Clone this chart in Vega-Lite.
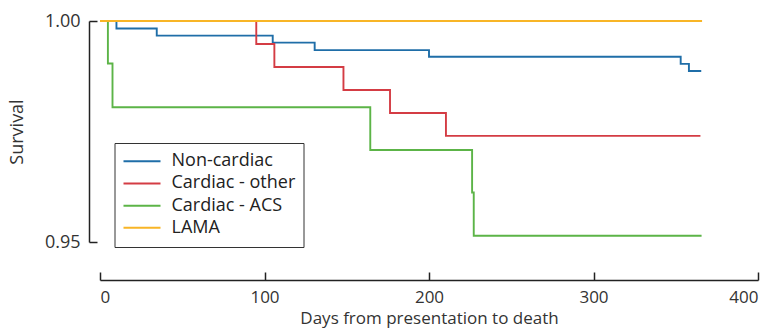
{
  "$schema": "https://vega.github.io/schema/vega-lite/v6.json",
  "autosize": {"type": "none"},
  "padding": {"left": 100, "top": 21, "right": 20, "bottom": 92},
  "width": 658,
  "height": 221,
  "background": "white",
  "config": {
    "font": "Open Sans",
    "view": {"stroke": null},
    "axis": {"grid": false}
  },
  "data": {
    "values": [
      {"series": "Non-cardiac", "day": 0, "surv": 1.0},
      {"series": "Non-cardiac", "day": 10, "surv": 0.9983},
      {"series": "Non-cardiac", "day": 34.5, "surv": 0.9967},
      {"series": "Non-cardiac", "day": 105, "surv": 0.9951},
      {"series": "Non-cardiac", "day": 130.5, "surv": 0.9934},
      {"series": "Non-cardiac", "day": 200, "surv": 0.9919},
      {"series": "Non-cardiac", "day": 353, "surv": 0.9903},
      {"series": "Non-cardiac", "day": 358, "surv": 0.9887},
      {"series": "Non-cardiac", "day": 365.5, "surv": 0.9887},
      {"series": "Cardiac - other", "day": 0, "surv": 1.0},
      {"series": "Cardiac - other", "day": 95, "surv": 0.9948},
      {"series": "Cardiac - other", "day": 106, "surv": 0.9896},
      {"series": "Cardiac - other", "day": 148, "surv": 0.9844},
      {"series": "Cardiac - other", "day": 176.3, "surv": 0.9792},
      {"series": "Cardiac - other", "day": 210.3, "surv": 0.9740},
      {"series": "Cardiac - other", "day": 365, "surv": 0.9740},
      {"series": "Cardiac - ACS", "day": 0, "surv": 1.0},
      {"series": "Cardiac - ACS", "day": 4.8, "surv": 0.9904},
      {"series": "Cardiac - ACS", "day": 7.6, "surv": 0.9805},
      {"series": "Cardiac - ACS", "day": 164.3, "surv": 0.9708},
      {"series": "Cardiac - ACS", "day": 226.2, "surv": 0.9612},
      {"series": "Cardiac - ACS", "day": 227.2, "surv": 0.9514},
      {"series": "Cardiac - ACS", "day": 365.7, "surv": 0.9514},
      {"series": "LAMA", "day": 0, "surv": 1.0},
      {"series": "LAMA", "day": 366, "surv": 1.0}
    ]
  },
  "mark": {"type": "line", "interpolate": "step-after", "strokeWidth": 1.9, "clip": false},
  "encoding": {
    "x": {
      "field": "day", "type": "quantitative",
      "scale": {"domain": [0, 400], "nice": false, "zero": false},
      "axis": {
        "title": "Days from presentation to death",
        "values": [0, 100, 200, 300, 400],
        "offset": 38,
        "tickSize": -8,
        "tickWidth": 1.5,
        "tickColor": "#222",
        "domainColor": "#222",
        "domainWidth": 1.5,
        "labelFontSize": 17,
        "labelColor": "#333",
        "labelPadding": 17,
        "titleFontSize": 17,
        "titleFontWeight": "normal",
        "titleColor": "#333",
        "titlePadding": 5
      }
    },
    "y": {
      "field": "surv", "type": "quantitative",
      "scale": {"domain": [0.95, 1.0], "nice": false, "zero": false},
      "axis": {
        "title": "Survival",
        "values": [0.95, 1.0],
        "format": ".2f",
        "offset": 11,
        "tickSize": -8,
        "tickWidth": 1.5,
        "tickColor": "#222",
        "domainColor": "#222",
        "domainWidth": 1.5,
        "labelFontSize": 18,
        "labelColor": "#333",
        "labelPadding": 17,
        "titleFontSize": 18,
        "titleFontWeight": "normal",
        "titleColor": "#333",
        "titlePadding": 18
      }
    },
    "color": {
      "field": "series", "type": "nominal",
      "scale": {
        "domain": ["Non-cardiac", "Cardiac - other", "Cardiac - ACS", "LAMA"],
        "range": ["#1f6ea8", "#d43c44", "#5cb447", "#f8b526"]
      },
      "legend": {
        "title": null,
        "orient": "none",
        "legendX": 14.5,
        "legendY": 122,
        "strokeColor": "#333",
        "fillColor": "white",
        "padding": 8,
        "symbolType": "stroke",
        "symbolSize": 1369,
        "symbolStrokeWidth": 2,
        "clipHeight": 20.5,
        "rowPadding": 1.2,
        "labelOffset": 10,
        "labelFontSize": 18,
        "labelColor": "#222"
      }
    }
  }
}
